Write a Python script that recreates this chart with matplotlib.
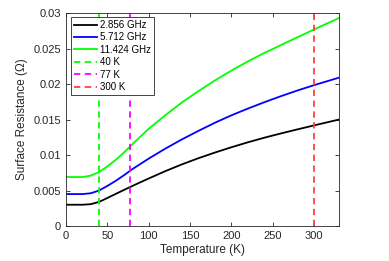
import matplotlib
matplotlib.use('Agg')
import matplotlib.pyplot as plt

plt.rcParams['font.family'] = ['Liberation Sans', 'DejaVu Sans']

# Temperature grid (K) and surface resistance (Ohm)
temperature = [0, 10, 20, 30, 40, 50, 60, 70, 80, 90, 100, 120, 140, 160, 180, 200, 220, 240, 260, 280, 300, 330]
rs_2856 = [0.0030, 0.0030, 0.0030, 0.00308, 0.0034, 0.00395, 0.00452, 0.00508, 0.00563, 0.00617, 0.0067,
           0.00773, 0.00868, 0.00955, 0.01035, 0.0111, 0.0118, 0.01245, 0.01305, 0.01362, 0.01418, 0.0150]
rs_5712 = [0.0045, 0.0045, 0.0045, 0.00462, 0.0050, 0.00565, 0.00636, 0.00715, 0.0080, 0.00875, 0.0095,
           0.0109, 0.0122, 0.0134, 0.01455, 0.0156, 0.01655, 0.01745, 0.0183, 0.0191, 0.01985, 0.0209]
rs_11424 = [0.0069, 0.0069, 0.0069, 0.0071, 0.0076, 0.0084, 0.0093, 0.01035, 0.0115, 0.0126, 0.0137,
            0.0156, 0.0174, 0.0190, 0.0205, 0.0219, 0.0232, 0.0244, 0.0255, 0.0266, 0.0277, 0.0293]
series_labels = ['2.856 GHz', '5.712 GHz', '11.424 GHz']
series_colors = ['k', '#0000ff', '#00ff00']

marker_temps = [40, 77, 300]
marker_labels = ['40 K', '77 K', '300 K']
marker_colors = ['#00ff00', '#ff00ff', '#ff4040']

fig = plt.figure(figsize=(3.89, 2.61), dpi=100)
ax = fig.add_axes([0.1697, 0.134, 0.7018, 0.816])

for ys, lab, col in zip([rs_2856, rs_5712, rs_11424], series_labels, series_colors):
    ax.plot(temperature, ys, color=col, lw=1.3, label=lab)

for t, lab, col in zip(marker_temps, marker_labels, marker_colors):
    ax.plot([t, t], [0, 0.03], color=col, lw=1.3, ls=(0, (3.5, 2.5)), label=lab)

ax.set_xlim(0, 330)
ax.set_ylim(0, 0.03)
ax.set_xticks([0, 50, 100, 150, 200, 250, 300])
ax.set_yticks([0, 0.005, 0.01, 0.015, 0.02, 0.025, 0.03])
ax.set_yticklabels(['0', '0.005', '0.01', '0.015', '0.02', '0.025', '0.03'])
ax.tick_params(direction='in', top=True, right=True, labelsize=8, colors='#262626',
               length=3, width=0.6)
for s in ax.spines.values():
    s.set_color('#262626')
    s.set_linewidth(0.6)

ax.set_xlabel('Temperature (K)', fontsize=8.5, color='#262626', labelpad=2)
ax.set_ylabel('Surface Resistance (\u03a9)', fontsize=8.5, color='#262626', labelpad=4)

leg = ax.legend(loc='upper left', bbox_to_anchor=(0.017, 0.981), borderaxespad=0,
                fontsize=7, handlelength=2.4, handletextpad=0.3, labelspacing=0.25,
                borderpad=0.3, fancybox=False, framealpha=1, edgecolor='#262626')
leg.get_frame().set_linewidth(0.6)

fig.savefig('out.png', dpi=100)
